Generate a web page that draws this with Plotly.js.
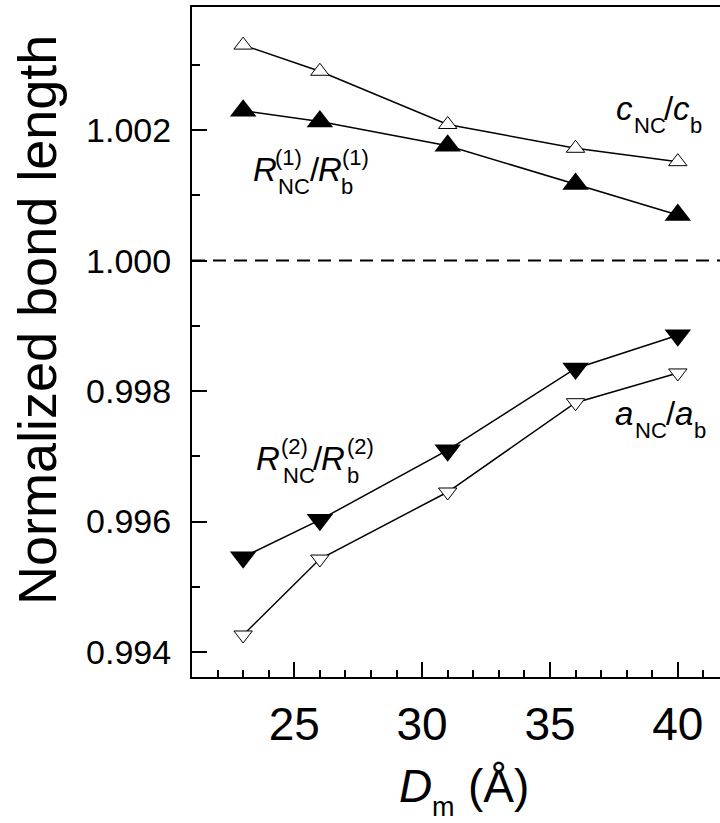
<!DOCTYPE html>
<html>
<head>
<meta charset="utf-8">
<script src="https://cdn.plot.ly/plotly-3.0.1.min.js"></script>
<style>
html,body{margin:0;padding:0;background:#fff;overflow:hidden;}
#chart{width:720px;height:823px;}
</style>
</head>
<body>
<div id="chart"></div>
<script>
// ---- data ----
const diameterA = [23, 26, 31, 36, 40];           // D_m (Å)
const cRatio  = [1.003304, 1.002903, 1.002087, 1.001722, 1.001517]; // c_NC/c_b (open up triangles)
const r1Ratio = [1.002299, 1.002133, 1.001762, 1.001173, 1.000698]; // R(1)_NC/R(1)_b (filled up triangles)
const r2Ratio = [0.995454, 0.996026, 0.997094, 0.998347, 0.998857]; // R(2)_NC/R(2)_b (filled down triangles)
const aRatio  = [0.994261, 0.995425, 0.996453, 0.997822, 0.998278]; // a_NC/a_b (open down triangles)
const xTicks = [25, 30, 35, 40];
const yTicks = [0.994, 0.996, 0.998, 1.000, 1.002];
const yTickText = ["0.994", "0.996", "0.998", "1.000", "1.002"];
const refLevel = 1.000;

// ---- layout geometry ----
const W = 720, H = 823;
const M = {l: 192, r: 0, t: 7, b: 146};
const PW = W - M.l - M.r, PH = H - M.t - M.b;
const FONT = "Liberation Sans, Arial, Helvetica, sans-serif";

function px2paperX(px){ return (px - M.l) / PW; }
function px2paperY(py){ return (H - M.b - py) / PH; }

// piece of a label: left x in px, baseline y in px
function piece(text, left, baseline, size, italic){
  const cy = baseline - 0.3465 * size;
  return {
    xref: "paper", yref: "paper",
    x: px2paperX(left), y: px2paperY(cy),
    xanchor: "left", yanchor: "middle",
    text: italic ? "<i>" + text + "</i>" : text,
    showarrow: false, borderpad: 0,
    font: {family: FONT, size: size, color: "#000"}
  };
}

const BIG = 33, SMALL = 22;
const annotations = [
  // R(1)_NC / R(1)_b
  piece("R", 252, 181, BIG, true),
  piece("(1)", 274, 165, SMALL, false),
  piece("NC", 277, 194, SMALL, false),
  piece("/", 309, 181, BIG, false),
  piece("R", 317, 181, BIG, true),
  piece("(1)", 341, 165, SMALL, false),
  piece("b", 340, 194, SMALL, false),
  // R(2)_NC / R(2)_b
  piece("R", 255, 470, BIG, true),
  piece("(2)", 280, 454, SMALL, false),
  piece("NC", 282, 483, SMALL, false),
  piece("/", 312, 470, BIG, false),
  piece("R", 320, 470, BIG, true),
  piece("(2)", 346, 454, SMALL, false),
  piece("b", 346, 483, SMALL, false),
  // c_NC / c_b
  piece("c", 615, 120, BIG, true),
  piece("NC", 633, 133, SMALL, false),
  piece("/", 663, 120, BIG, false),
  piece("c", 672, 120, BIG, true),
  piece("b", 689, 133, SMALL, false),
  // a_NC / a_b
  piece("a", 614, 425, BIG, true),
  piece("NC", 634, 438, SMALL, false),
  piece("/", 665, 425, BIG, false),
  piece("a", 674, 425, BIG, true),
  piece("b", 693, 438, SMALL, false),
  // x axis title: D_m (Å)
  piece("D", 398, 802, 46, true),
  piece("m", 431, 816, 27, false),
  piece("(Å)", 467, 802, 46, false),
  // y axis title
  {
    xref: "paper", yref: "paper",
    x: px2paperX(37), y: px2paperY(320),
    xanchor: "center", yanchor: "middle",
    text: "Normalized bond length", textangle: -90,
    showarrow: false, borderpad: 0,
    font: {family: FONT, size: 54, color: "#000"}
  }
];

const lineStyle = {color: "#000", width: 1.5};
const traces = [
  {x: diameterA, y: cRatio, mode: "lines+markers", line: lineStyle,
   marker: {symbol: "triangle-up", size: 16, color: "#fff", line: {color: "#000", width: 1}}},
  {x: diameterA, y: r1Ratio, mode: "lines+markers", line: lineStyle,
   marker: {symbol: "triangle-up", size: 23, color: "#000", line: {width: 0}}},
  {x: diameterA, y: r2Ratio, mode: "lines+markers", line: lineStyle,
   marker: {symbol: "triangle-down", size: 23, color: "#000", line: {width: 0}}},
  {x: diameterA, y: aRatio, mode: "lines+markers", line: lineStyle,
   marker: {symbol: "triangle-down", size: 16, color: "#fff", line: {color: "#000", width: 1}}}
];

const layout = {
  width: W, height: H,
  margin: M,
  paper_bgcolor: "#fff", plot_bgcolor: "rgba(0,0,0,0)",
  showlegend: false,
  font: {family: FONT, color: "#000"},
  xaxis: {
    range: [21, 41.65],
    tickmode: "array", tickvals: xTicks, ticktext: xTicks.map(String),
    ticks: "inside", ticklen: 15, tickwidth: 2, tickcolor: "#000",
    minor: {dtick: 1, tick0: 0, ticks: "inside", ticklen: 7, tickwidth: 2, tickcolor: "#000"},
    showline: true, linewidth: 2, linecolor: "#000", mirror: true,
    showgrid: false, zeroline: false,
    tickfont: {family: FONT, size: 46, color: "#000"},
    ticklabelstandoff: 6
  },
  yaxis: {
    range: [0.993617, 1.003888],
    tickmode: "array", tickvals: yTicks, ticktext: yTickText,
    ticks: "inside", ticklen: 15, tickwidth: 2, tickcolor: "#000",
    minor: {dtick: 0.001, tick0: 0, ticks: "inside", ticklen: 8, tickwidth: 2, tickcolor: "#000"},
    showline: true, linewidth: 2, linecolor: "#000", mirror: false,
    showgrid: false, zeroline: false,
    tickfont: {family: FONT, size: 34, color: "#000"},
    ticklabelstandoff: 12
  },
  shapes: [{
    type: "line", xref: "paper", yref: "y",
    x0: 0, x1: 1, y0: refLevel, y1: refLevel,
    line: {color: "#000", width: 2, dash: "13px,8px"}
  }],
  annotations: annotations
};

Plotly.newPlot("chart", traces, layout, {displayModeBar: false, staticPlot: true});
</script>
</body>
</html>
